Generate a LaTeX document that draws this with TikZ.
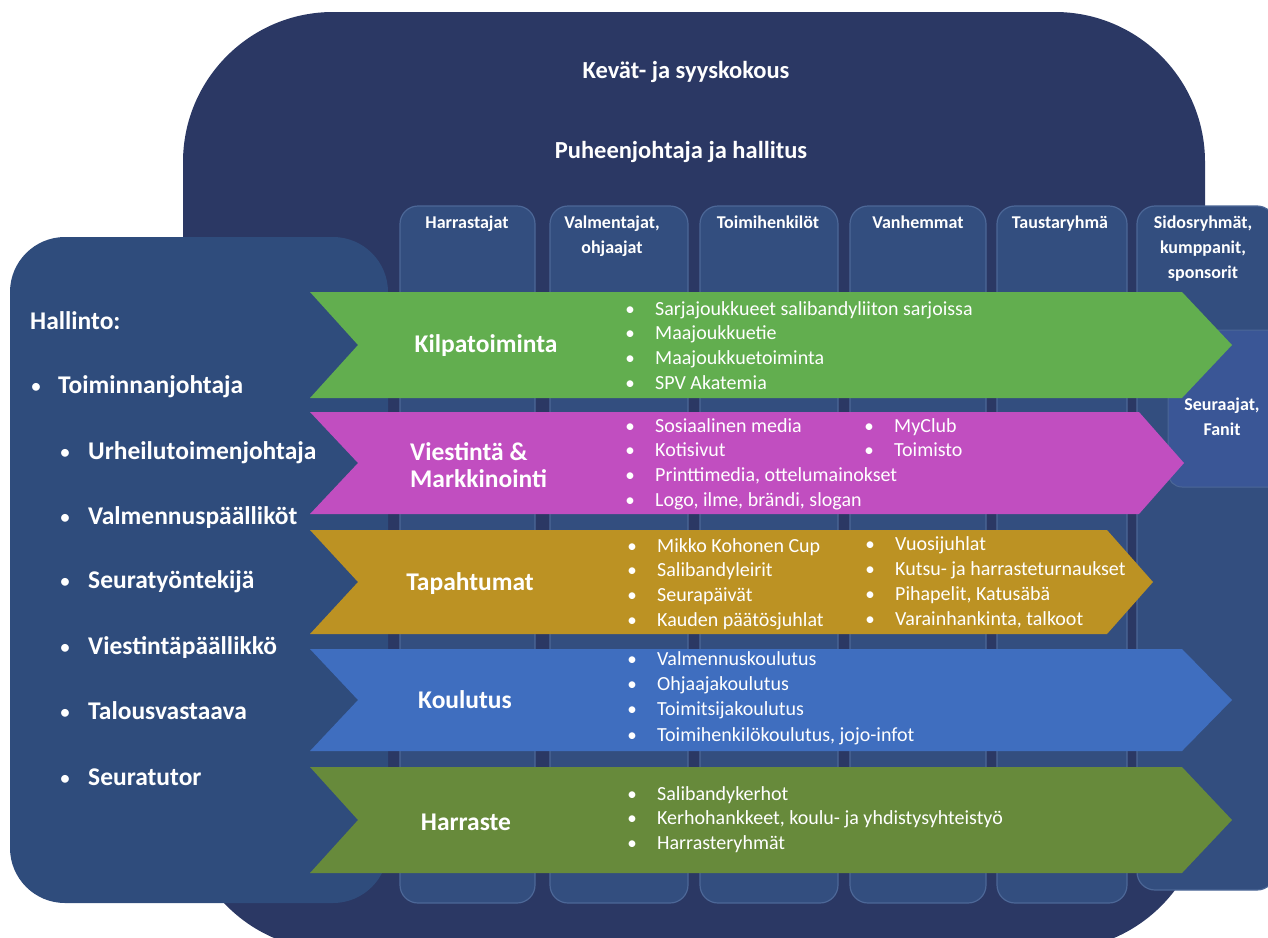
\documentclass[tikz,border=0pt]{standalone}
\usepackage{fontspec}
\setmainfont{Carlito}
\definecolor{bignavy}{HTML}{2B3864}
\definecolor{panelnavy}{HTML}{2F4C7C}
\definecolor{colfill}{HTML}{334E7F}
\definecolor{colborder}{HTML}{4C6797}
\definecolor{seurfill}{HTML}{3A5696}
\definecolor{agreen}{HTML}{62AE4F}
\definecolor{amagenta}{HTML}{C14EC0}
\definecolor{agold}{HTML}{BC9223}
\definecolor{ablue}{HTML}{3F6EBF}
\definecolor{aolive}{HTML}{678A3B}
\newcommand{\fsz}[1]{\fontsize{#1}{#1}\selectfont}
\newcommand{\bulitem}[4]{%
  \node[bul] (#1b) at (#2,#3) {\textbullet};
  \node[item] (#1) at (#2+25,#3) {#4};}
\newcommand{\chev}[7]{% name, colour, top, bottom, bodyend, tip, notch
  \fill[#2] (310,#3) -- (#5,#3) -- (#6,{(#3+#4)/2}) -- (#5,#4) -- (310,#4) -- (#7,{(#3+#4)/2}) -- cycle;
  \coordinate (#1) at (310,{(#3+#4)/2});}
\begin{document}
\begin{tikzpicture}[x=1pt,y=-1pt,
  colbox/.style={fill=colfill,draw=colborder,line width=1.2pt,rounded corners=18pt},
  hdr/.style={text=white,font=\bfseries\fsz{18},align=center,anchor=north,inner sep=0pt,
    execute at begin node=\setlength{\baselineskip}{25pt}},
  toptext/.style={text=white,font=\bfseries\fsz{24.5},inner sep=0pt},
  lbl/.style={text=white,font=\bfseries\fsz{25.5},inner sep=0pt},
  bul/.style={text=white,font=\fsz{19},inner sep=0pt},
  item/.style={text=white,font=\fsz{20},anchor=west,inner sep=0pt,text height=14pt,text depth=5pt},
  pbul/.style={text=white,font=\fsz{22},inner sep=0pt},
  pitem/.style={text=white,font=\bfseries\fsz{25.5},anchor=west,inner sep=0pt,text height=18pt,text depth=6pt}]
\useasboundingbox (0,0) rectangle (1268,937);
% big background box
\fill[bignavy,rounded corners=150pt] (183,12) rectangle (1205,950);
\node[toptext] (kokous) at (686,72) {Kevät- ja syyskokous};
\node[toptext] (hallitus) at (681,152) {Puheenjohtaja ja hallitus};
% columns
\draw[colbox] (400,206) rectangle (535,903);
\draw[colbox] (550,206) rectangle (688,903);
\draw[colbox] (700,206) rectangle (838,903);
\draw[colbox] (850,206) rectangle (986,903);
\draw[colbox] (997,206) rectangle (1127,903);
\draw[colbox] (1137,206) rectangle (1275,890);
\node[hdr] (c1) at (467,216) {Harrastajat};
\node[hdr] (c2) at (612,216) {Valmentajat,\\ohjaajat};
\node[hdr] (c3) at (768,216) {Toimihenkilöt};
\node[hdr] (c4) at (918,216) {Vanhemmat};
\node[hdr] (c5) at (1060,216) {Taustaryhmä};
\node[hdr] (c6) at (1203,216) {Sidosryhmät,\\kumppanit,\\sponsorit};
% Seuraajat box
\fill[seurfill,rounded corners=14pt] (1168,330) rectangle (1290,487);
\draw[colborder,line width=1pt,rounded corners=14pt] (1290,330) -- (1168,330) -- (1168,487) -- (1290,487);
\node[hdr,anchor=center] (fanit) at (1222,417) {Seuraajat,\\Fanit};
% left panel
\fill[panelnavy,rounded corners=55pt] (10,237) rectangle (388,903);
\node[pitem] (hallinto) at (30,323) {Hallinto:};
\node[pbul] (p1b) at (36,388) {\textbullet};
\node[pitem] (p1) at (58,387) {Toiminnanjohtaja};
\node[pbul] (p2b) at (65,454) {\textbullet};
\node[pitem] (p2) at (88,453) {Urheilutoimenjohtaja};
\node[pbul] (p3b) at (65,519) {\textbullet};
\node[pitem] (p3) at (88,518) {Valmennuspäälliköt};
\node[pbul] (p4b) at (65,583) {\textbullet};
\node[pitem] (p4) at (88,582) {Seuratyöntekijä};
\node[pbul] (p5b) at (65,649) {\textbullet};
\node[pitem] (p5) at (88,648) {Viestintäpäällikkö};
\node[pbul] (p6b) at (65,714) {\textbullet};
\node[pitem] (p6) at (88,713) {Talousvastaava};
\node[pbul] (p7b) at (65,780) {\textbullet};
\node[pitem] (p7) at (88,779) {Seuratutor};
% chevrons
\chev{kilpa}{agreen}{292}{398}{1182}{1232}{358}
\chev{viest}{amagenta}{412}{514}{1139}{1184}{358}
\chev{tapah}{agold}{530}{634}{1107}{1153}{358}
\chev{koul}{ablue}{649}{751}{1182}{1232}{358}
\chev{harr}{aolive}{767}{873}{1182}{1232}{358}
% labels
\node[lbl] (Lkilpa) at (486,346) {Kilpatoiminta};
\node[lbl,anchor=west,align=left,execute at begin node=\setlength{\baselineskip}{27pt}] (Lviest) at (410,465) {Viestintä \&\\Markkinointi};
\node[lbl] (Ltapah) at (470,584) {Tapahtumat};
\node[lbl] (Lkoul) at (465,700) {Koulutus};
\node[lbl] (Lharr) at (466,822) {Harraste};
% items
\bulitem{k1}{630}{311}{Sarjajoukkueet salibandyliiton sarjoissa}
\bulitem{k2}{630}{335}{Maajoukkuetie}
\bulitem{k3}{630}{360}{Maajoukkuetoiminta}
\bulitem{k4}{630}{385}{SPV Akatemia}
\bulitem{v1}{630}{428}{Sosiaalinen media}
\bulitem{v2}{630}{452}{Kotisivut}
\bulitem{v3}{630}{477}{Printtimedia, ottelumainokset}
\bulitem{v4}{630}{502}{Logo, ilme, brändi, slogan}
\bulitem{v5}{869}{428}{MyClub}
\bulitem{v6}{869}{452}{Toimisto}
\bulitem{t1}{632}{548}{Mikko Kohonen Cup}
\bulitem{t2}{632}{572}{Salibandyleirit}
\bulitem{t3}{632}{597}{Seurapäivät}
\bulitem{t4}{632}{622}{Kauden päätösjuhlat}
\bulitem{t5}{870}{546}{Vuosijuhlat}
\bulitem{t6}{870}{571}{Kutsu- ja harrasteturnaukset}
\bulitem{t7}{870}{596}{Pihapelit, Katusäbä}
\bulitem{t8}{870}{621}{Varainhankinta, talkoot}
\bulitem{o1}{632}{661}{Valmennuskoulutus}
\bulitem{o2}{632}{686}{Ohjaajakoulutus}
\bulitem{o3}{632}{711}{Toimitsijakoulutus}
\bulitem{o4}{632}{737}{Toimihenkilökoulutus, jojo-infot}
\bulitem{h1}{632}{796}{Salibandykerhot}
\bulitem{h2}{632}{820}{Kerhohankkeet, koulu- ja yhdistysyhteistyö}
\bulitem{h3}{632}{845}{Harrasteryhmät}
\end{tikzpicture}
\end{document}
